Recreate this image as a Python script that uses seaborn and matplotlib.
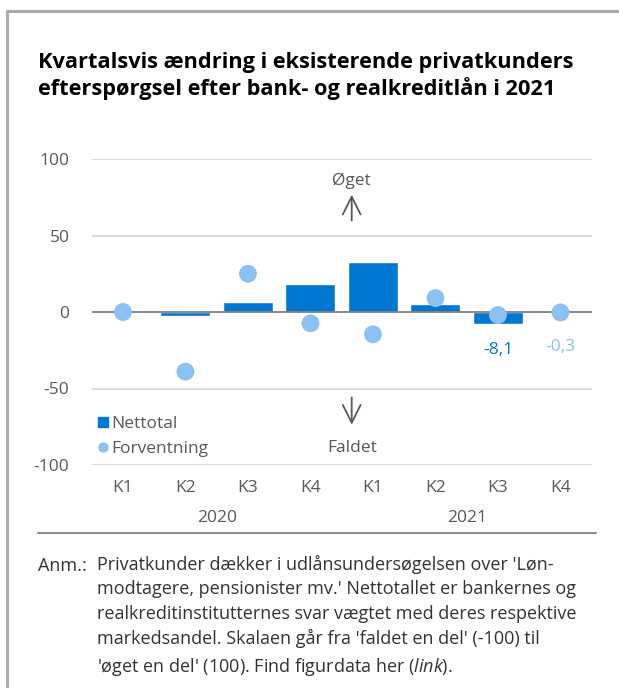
import matplotlib
matplotlib.use("Agg")
import matplotlib.pyplot as plt
from matplotlib.lines import Line2D
import matplotlib.transforms as mtransforms
import seaborn as sns
import pandas as pd

# Data
kvartaler = ["K1", "K2", "K3", "K4", "K1", "K2", "K3", "K4"]
aar = ["2020", "2021"]
nettotal = [0.3, -2.6, 6.7, 18.5, 33.0, 5.4, -8.1, 0.0]
forventning = [0.0, -39.0, 25.0, -7.4, -14.6, 9.1, -2.0, -0.3]
y_ticks = [-100, -50, 0, 50, 100]

titel = ("Kvartalsvis ændring i eksisterende privatkunders\n"
         "efterspørgsel efter bank- og realkreditlån i 2021")
anm = ("Privatkunder dækker i udlånsundersøgelsen over 'Løn-\n"
       "modtagere, pensionister mv.' Nettotallet er bankernes og\n"
       "realkreditinstitutternes svar vægtet med deres respektive\n"
       "markedsandel. Skalaen går fra 'faldet en del' (-100) til\n"
       "'øget en del' (100). Find figurdata her ($\\it{link}$).")

labels = [f"{k} {aar[i // 4]}" for i, k in enumerate(kvartaler)]
df = pd.DataFrame({"periode": labels, "Nettotal": nettotal, "Forventning": forventning})

sns.set_style("white")
plt.rcParams["font.family"] = ["Open Sans", "DejaVu Sans"]
plt.rcParams["mathtext.fontset"] = "custom"
plt.rcParams["mathtext.it"] = "Open Sans:italic"

MORK = "#0078D2"
LYS = "#8BC1F3"
GRAA = "#595959"
FS = 12.5

fig = plt.figure(figsize=(6.19, 6.88), dpi=100)
ax = fig.add_axes([91.7 / 619, 1 - 465 / 688, 500 / 619, 306 / 688])

sns.barplot(data=df, x="periode", y="Nettotal", color=MORK, width=0.8,
            saturation=1, ax=ax, zorder=2)
sns.scatterplot(data=df, x="periode", y="Forventning", color=LYS, s=165,
                edgecolor="none", ax=ax, zorder=4)

ax.set_xlim(-0.5, 7.5)
ax.set_ylim(-100, 100)
ax.set_yticks(y_ticks)
ax.set_yticklabels([str(v) for v in y_ticks])
ax.set_xticks(range(len(kvartaler)))
ax.set_xticklabels(kvartaler)
ax.tick_params(axis="both", length=0, labelsize=FS, labelcolor=GRAA)
ax.tick_params(axis="x", pad=11)
ax.tick_params(axis="y", pad=16)
ax.set_xlabel("")
ax.set_ylabel("")
for s in ax.spines.values():
    s.set_visible(False)
for v in y_ticks:
    if v == 0:
        ax.axhline(v, color="#7f7f7f", lw=1.3, zorder=3)
    else:
        ax.axhline(v, color="#d9d9d9", lw=1.3, zorder=0)

# year labels
trans = mtransforms.blended_transform_factory(ax.transData, ax.transAxes)
ax.text(1.5, -0.173, aar[0], transform=trans, ha="center", va="center", fontsize=FS, color=GRAA)
ax.text(5.5, -0.173, aar[1], transform=trans, ha="center", va="center", fontsize=FS, color=GRAA)

# value labels
ax.text(6, -25, "-8,1", ha="center", va="center", fontsize=FS, color=MORK)
ax.text(7, -23, "-0,3", ha="center", va="center", fontsize=FS, color=LYS)

# arrows
ax.annotate("", xy=(3.66, 78.5), xytext=(3.66, 58),
            arrowprops=dict(arrowstyle="->", color=GRAA, lw=1.3, mutation_scale=32))
ax.text(3.66, 86, "Øget", ha="center", va="center", fontsize=FS, color=GRAA)
ax.annotate("", xy=(3.66, -75.5), xytext=(3.66, -54),
            arrowprops=dict(arrowstyle="->", color=GRAA, lw=1.3, mutation_scale=32))
ax.text(3.66, -89, "Faldet", ha="center", va="center", fontsize=FS, color=GRAA)

# legend
handles = [Line2D([], [], marker="s", ls="", color=MORK, markersize=7.5),
           Line2D([], [], marker="o", ls="", color=LYS, markersize=6.5)]
ax.legend(handles, ["Nettotal", "Forventning"], loc="upper left",
          bbox_to_anchor=(0.0, 0.182), frameon=False, fontsize=FS,
          handlelength=0.5, handletextpad=0.25, labelspacing=0.48,
          labelcolor=GRAA, borderaxespad=0)

# title and note
fig.text(38 / 619, 1 - 52 / 688, titel, ha="left", va="top", fontsize=15.7,
         fontweight="bold", color="black", linespacing=1.22)
fig.add_artist(Line2D([38 / 619, 596 / 619], [1 - 533 / 688] * 2, color="#8c8c8c", lw=1.5))
fig.text(38 / 619, 1 - 566 / 688, "Anm.:", ha="left", va="center", fontsize=13, color="#333333")
fig.text(97 / 619, 1 - 555 / 688, anm, ha="left", va="top", fontsize=13,
         color="#333333", linespacing=1.45)

# frame
fig.add_artist(Line2D([7 / 619, 7 / 619], [0, 1 - 11 / 688], color="#ababab", lw=2.2))
fig.add_artist(Line2D([7 / 619, 1], [1 - 11 / 688] * 2, color="#ababab", lw=2.2))

fig.savefig("out.png", dpi=100)
